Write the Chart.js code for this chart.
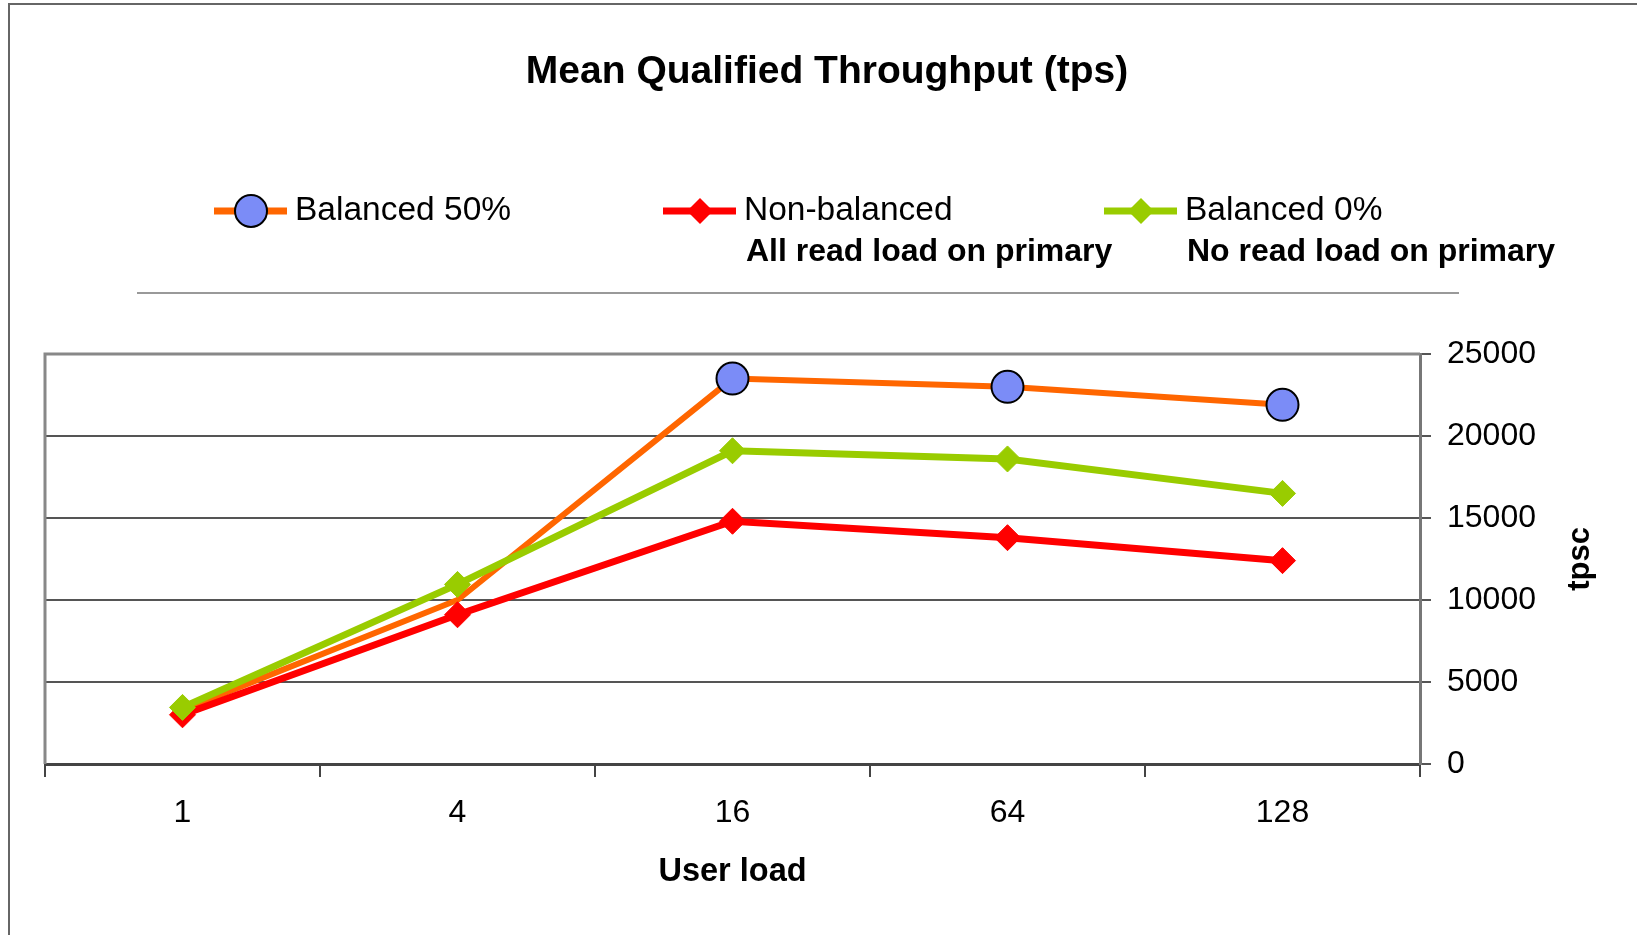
<!DOCTYPE html>
<html>
<head>
<meta charset="utf-8">
<script src="https://cdn.jsdelivr.net/npm/chart.js@4.4.1/dist/chart.umd.min.js"></script>
<style>
  html, body { margin: 0; padding: 0; background: #fff; }
  #wrap { width: 1637px; height: 935px; position: relative; }
</style>
</head>
<body>
<div id="wrap"><canvas id="chart" width="1637" height="935"></canvas></div>
<script>
const userLoads = ["1", "4", "16", "64", "128"];
const balanced50 = [3300, 10000, 23500, 23000, 21900];
const nonBalanced = [3000, 9100, 14800, 13800, 12400];
const balanced0 = [3450, 10950, 19100, 18600, 16500];
const seriesNames = ["Balanced 50%", "Non-balanced", "Balanced 0%"];
const seriesNotes = ["", "All read load on primary", "No read load on primary"];
const yTicks = [0, 5000, 10000, 15000, 20000, 25000];
const titleText = "Mean Qualified Throughput (tps)";
const xTitle = "User load";
const yTitle = "tpsc";

const FONT = "'Liberation Sans', Arial, sans-serif";
const ORANGE = "#ff6600";
const RED = "#ff0000";
const GREEN = "#99cc00";
const BLUE = "#7b8cf7";

// marker drawing for the hand made legend
function drawMarker(ctx, ds, x, y) {
  ctx.save();
  if (ds.pointStyle === "circle") {
    ctx.beginPath();
    ctx.arc(x, y, 16, 0, Math.PI * 2);
    ctx.fillStyle = ds.pointBackgroundColor;
    ctx.fill();
    ctx.lineWidth = ds.pointBorderWidth;
    ctx.strokeStyle = ds.pointBorderColor;
    ctx.stroke();
  } else {
    const r = 13;
    ctx.beginPath();
    ctx.moveTo(x, y - r);
    ctx.lineTo(x + r, y);
    ctx.lineTo(x, y + r);
    ctx.lineTo(x - r, y);
    ctx.closePath();
    ctx.fillStyle = ds.pointBackgroundColor;
    ctx.fill();
  }
  ctx.restore();
}

const decor = {
  id: "decor",
  beforeDraw(chart) {
    const ctx = chart.ctx;
    ctx.save();
    ctx.fillStyle = "#fff";
    ctx.fillRect(0, 0, chart.width, chart.height);
    // outer frame (top and left)
    ctx.strokeStyle = "#666";
    ctx.lineWidth = 2;
    ctx.beginPath();
    ctx.moveTo(9, chart.height);
    ctx.lineTo(9, 4);
    ctx.lineTo(chart.width, 4);
    ctx.stroke();
    ctx.restore();
  },
  beforeDatasetsDraw(chart) {
    const ctx = chart.ctx;
    const a = chart.chartArea;
    ctx.save();
    ctx.strokeStyle = "#888";
    ctx.lineWidth = 3;
    ctx.beginPath();
    ctx.moveTo(a.left, a.bottom);
    ctx.lineTo(a.left, a.top);
    ctx.lineTo(a.right, a.top);
    ctx.stroke();
    ctx.restore();
  },
  afterDraw(chart) {
    const ctx = chart.ctx;
    ctx.save();
    ctx.fillStyle = "#000";
    ctx.textBaseline = "middle";

    // title
    ctx.textAlign = "center";
    ctx.font = "bold 39px " + FONT;
    ctx.fillText(titleText, 827, 72);

    // legend
    const lineStart = [214, 663, 1104];
    const legendY = 211;
    chart.data.datasets.forEach((ds, i) => {
      const x0 = lineStart[i];
      ctx.strokeStyle = ds.borderColor;
      ctx.lineWidth = 7;
      ctx.beginPath();
      ctx.moveTo(x0, legendY);
      ctx.lineTo(x0 + 73, legendY);
      ctx.stroke();
      drawMarker(ctx, ds, x0 + 37, legendY);
      ctx.textAlign = "left";
      ctx.fillStyle = "#000";
      ctx.font = "33.5px " + FONT;
      ctx.fillText(seriesNames[i], x0 + 81, legendY);
      if (seriesNotes[i]) {
        ctx.font = "bold 32px " + FONT;
        ctx.fillText(seriesNotes[i], x0 + 83, 252);
      }
    });

    // separator under legend
    ctx.strokeStyle = "#999";
    ctx.lineWidth = 2;
    ctx.beginPath();
    ctx.moveTo(137, 293);
    ctx.lineTo(1459, 293);
    ctx.stroke();

    // y axis title, reading bottom to top
    ctx.translate(1580, 559);
    ctx.rotate(-Math.PI / 2);
    ctx.textAlign = "center";
    ctx.font = "bold 31px " + FONT;
    ctx.fillText(yTitle, 0, 0);
    ctx.restore();
  }
};

const chart = new Chart(document.getElementById("chart"), {
  type: "line",
  data: {
    labels: userLoads,
    datasets: [
      {
        label: seriesNames[0],
        data: balanced50,
        borderColor: ORANGE,
        borderWidth: 6,
        pointStyle: "circle",
        pointRadius: ctx => ctx.dataIndex < 2 ? 0 : 16,
        pointHoverRadius: 16,
        pointBackgroundColor: BLUE,
        pointBorderColor: "#000",
        pointBorderWidth: 2,
        order: 3
      },
      {
        label: seriesNames[1],
        data: nonBalanced,
        borderColor: RED,
        borderWidth: 7,
        pointStyle: "rectRot",
        pointRadius: 13,
        pointBackgroundColor: RED,
        pointBorderColor: RED,
        pointBorderWidth: 1,
        order: 2
      },
      {
        label: seriesNames[2],
        data: balanced0,
        borderColor: GREEN,
        borderWidth: 7,
        pointStyle: "rectRot",
        pointRadius: 13,
        pointBackgroundColor: GREEN,
        pointBorderColor: GREEN,
        pointBorderWidth: 1,
        order: 1
      }
    ]
  },
  options: {
    responsive: false,
    animation: false,
    devicePixelRatio: 1,
    layout: { padding: { top: 354, left: 45, right: 0, bottom: 0 } },
    plugins: {
      legend: { display: false },
      title: { display: false },
      tooltip: { enabled: false }
    },
    scales: {
      x: {
        offset: true,
        grid: {
          display: true,
          drawOnChartArea: false,
          drawTicks: true,
          tickLength: 13,
          color: "#444",
          lineWidth: 2,
          offset: true
        },
        border: { display: true, color: "#444", width: 3 },
        ticks: {
          font: { family: FONT, size: 32 },
          color: "#000",
          padding: 17,
          maxRotation: 0
        },
        title: {
          display: true,
          text: xTitle,
          font: { family: FONT, size: 32.5, weight: "bold" },
          color: "#000",
          padding: { top: 0, bottom: 43 }
        },
        afterFit: s => { s.height = 171; }
      },
      y: {
        position: "right",
        min: 0,
        max: 25000,
        afterBuildTicks: s => { s.ticks = yTicks.map(v => ({ value: v })); },
        grid: { color: "#555", lineWidth: 2, tickLength: 11, drawTicks: true },
        border: { display: true, color: "#777", width: 3 },
        ticks: {
          font: { family: FONT, size: 32 },
          color: "#000",
          padding: 16,
          callback: v => String(v)
        },
        afterFit: s => { s.width = 217; }
      }
    }
  },
  plugins: [decor]
});
</script>
</body>
</html>
